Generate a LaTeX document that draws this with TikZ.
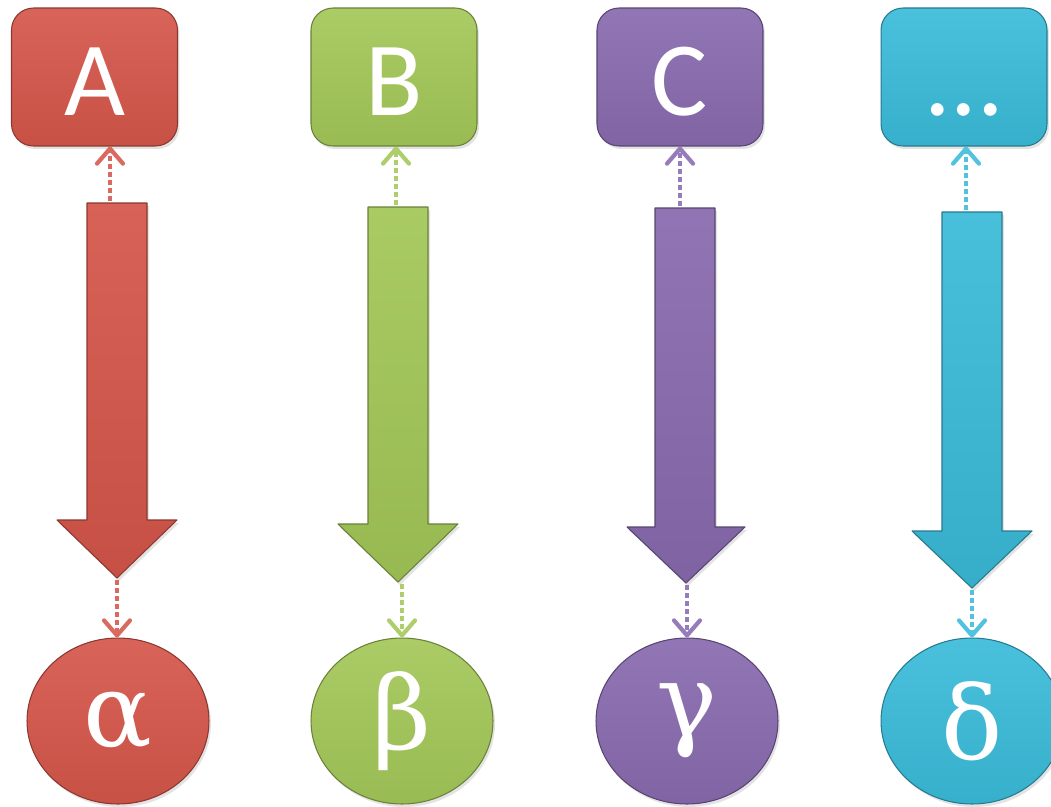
\documentclass[tikz,border=0pt]{standalone}
\usepackage{fontspec}
\setmainfont{Carlito}
\newfontfamily\greekfont{DejaVu Serif}
\usepackage{tikz}
\usetikzlibrary{arrows.meta,shapes.geometric,shadows,calc}
\definecolor{redA}{RGB}{213,86,74}
\definecolor{greenB}{RGB}{163,199,88}
\definecolor{purpleC}{RGB}{136,106,174}
\definecolor{cyanD}{RGB}{58,187,217}
\tikzset{
  soft/.style={drop shadow={opacity=0.22,shadow xshift=0.04cm,shadow yshift=-0.06cm}},
  topbox/.style={soft,draw=#1!65!black,line width=0.6pt,rounded corners=0.44cm,
    minimum width=3.32cm,minimum height=2.76cm,inner sep=0pt,
    top color=#1!92!white,bottom color=#1!94!black,
    text=white,font=\fontsize{60}{60}\selectfont,text height=1.52cm,text depth=0pt},
  botcirc/.style={soft,ellipse,draw=#1!65!black,line width=0.6pt,
    minimum width=3.64cm,minimum height=3.32cm,inner sep=0pt,
    top color=#1!92!white,bottom color=#1!94!black,
    text=white,font=\greekfont\fontsize{58}{58}\selectfont},
  bigarrow/.style={soft,draw=#1!65!black,line width=0.6pt,line join=round,
    top color=#1!93!white,bottom color=#1!93!black},
  dotarrow/.style={#1!88!white,line width=2.4pt,dash pattern=on 0.1cm off 0.06cm,
    -{Straight Barb[length=0.3cm,width=0.52cm,round]}}
}
\begin{document}
\begin{tikzpicture}[x=0.02cm,y=-0.02cm]
\useasboundingbox (0,0) rectangle (1051,806);
\node[topbox=redA] (boxA) at (94.5,77) {A};
\node[topbox=greenB] (boxB) at (394,77) {B};
\node[topbox=purpleC] (boxC) at (680,77) {C};
\node[topbox=cyanD] (boxD) at (964,77) {...};
\node[botcirc=redA] (circA) at (118,721) {α};
\node[botcirc=greenB] (circB) at (402,721) {β};
\node[botcirc=purpleC] (circC) at (687,721) {γ};
\node[botcirc=cyanD] (circD) at (972,721) {δ};
\draw[bigarrow=redA] (87,203) -- (147,203) -- (147,520) -- (177,520) -- (117,578) -- (57,520) -- (87,520) -- cycle;
\draw[bigarrow=greenB] (368,207) -- (428,207) -- (428,524) -- (458,524) -- (398,582) -- (338,524) -- (368,524) -- cycle;
\draw[bigarrow=purpleC] (655,208) -- (715,208) -- (715,527) -- (745,527) -- (686,583) -- (627,527) -- (655,527) -- cycle;
\draw[bigarrow=cyanD] (942,212) -- (1002,212) -- (1002,531) -- (1032,531) -- (972,588) -- (912,531) -- (942,531) -- cycle;
\coordinate (tA) at (110,201);
\coordinate (tB) at (396,205);
\coordinate (tC) at (680,206);
\coordinate (tD) at (966,210);
\coordinate (pA) at (117,580);
\coordinate (pB) at (402,584);
\coordinate (pC) at (687,585);
\coordinate (pD) at (972,590);
\draw[dotarrow=redA] (tA) -- (tA |- boxA.south);
\draw[dotarrow=greenB] (tB) -- (tB |- boxB.south);
\draw[dotarrow=purpleC] (tC) -- (tC |- boxC.south);
\draw[dotarrow=cyanD] (tD) -- (tD |- boxD.south);
\draw[dotarrow=redA] (pA) -- (pA |- circA.north);
\draw[dotarrow=greenB] (pB) -- (pB |- circB.north);
\draw[dotarrow=purpleC] (pC) -- (pC |- circC.north);
\draw[dotarrow=cyanD] (pD) -- (pD |- circD.north);
\end{tikzpicture}
\end{document}
